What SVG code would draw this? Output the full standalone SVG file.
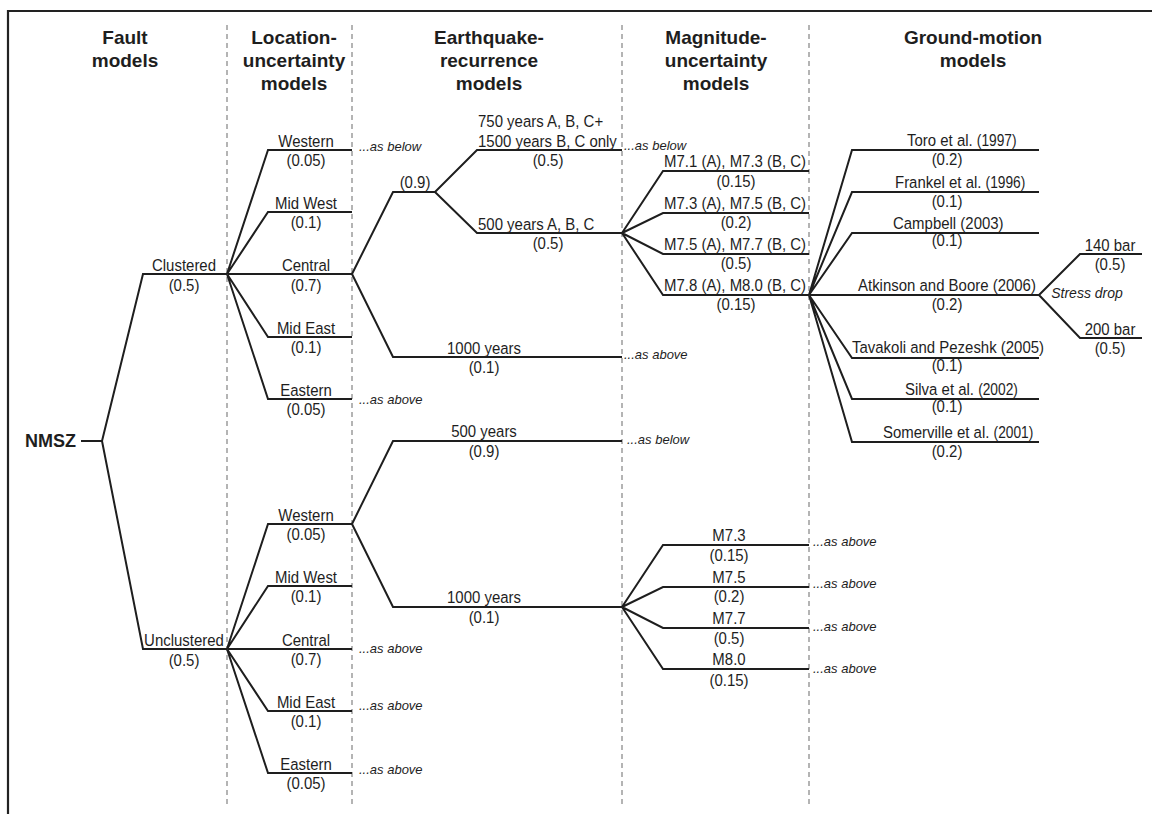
<svg xmlns="http://www.w3.org/2000/svg" width="1152" height="814" viewBox="0 0 1152 814">
<style>
.ln{fill:none;stroke:#1e1e1e;stroke-width:2;stroke-linejoin:miter}
.fr{fill:none;stroke:#222;stroke-width:2.2}
.dash{stroke:#b4b4b4;stroke-width:2;stroke-dasharray:5 4}
text{font-family:"Liberation Sans",Arial,sans-serif;fill:#1e1e1e}
.hd{font-size:19px;font-weight:bold;text-anchor:middle}
.t{font-size:17.4px}
.c{text-anchor:middle}
.it{font-size:13px;font-style:italic}
.yr{font-size:16px}
</style>
<rect width="1152" height="814" fill="#fff"/>
<path class="fr" d="M8,814 V11 H1152"/>
<g id="columns">
<line class="dash" x1="227" y1="25" x2="227" y2="808"/>
<line class="dash" x1="352" y1="25" x2="352" y2="808"/>
<line class="dash" x1="622" y1="25" x2="622" y2="808"/>
<line class="dash" x1="809" y1="25" x2="809" y2="808"/>
</g>
<g id="headers">
<text class="hd" x="125" y="44">Fault</text>
<text class="hd" x="125" y="67">models</text>
<text class="hd" x="294" y="44">Location-</text>
<text class="hd" x="294" y="67">uncertainty</text>
<text class="hd" x="294" y="90">models</text>
<text class="hd" x="489" y="44">Earthquake-</text>
<text class="hd" x="489" y="67">recurrence</text>
<text class="hd" x="489" y="90">models</text>
<text class="hd" x="716" y="44">Magnitude-</text>
<text class="hd" x="716" y="67">uncertainty</text>
<text class="hd" x="716" y="90">models</text>
<text class="hd" x="973" y="44">Ground-motion</text>
<text class="hd" x="973" y="67">models</text>
</g>
<g id="connectors">
<path class="ln" d="M81,441 H102"/>
<path class="ln" d="M227,274 H143 L102,441 L143,649 H227"/>
<path class="ln" d="M227,274 L268,150 H352 M227,274 L268,212 H352 M227,274 H352 M227,274 L268,337 H352 M227,274 L268,399 H352"/>
<path class="ln" d="M352,274 L393,192 H435 L477,150 H622 M435,192 L477,233 H622 M352,274 L393,357 H622"/>
<path class="ln" d="M622,233 L663,171 H809 M622,233 L663,213 H809 M622,233 L663,254 H809 M622,233 L663,295 H809"/>
<path class="ln" d="M809,295 L852,150 H1039 M809,295 L852,192 H1039 M809,295 L852,233 H1039 M809,295 H1039 M809,295 L852,358 H1039 M809,295 L852,399 H1039 M809,295 L852,442 H1039"/>
<path class="ln" d="M1039,295 L1080,254 H1142 M1039,295 L1080,338 H1142"/>
<path class="ln" d="M227,649 L268,524 H352 M227,649 L268,586 H352 M227,649 H352 M227,649 L268,711 H352 M227,649 L268,773 H352"/>
<path class="ln" d="M352,524 L393,441 H622 M352,524 L393,607 H622"/>
<path class="ln" d="M622,607 L663,545 H809 M622,607 L663,587 H809 M622,607 L663,628 H809 M622,607 L663,669 H809"/>
</g>
<g id="nmsz"><text x="25" y="447" style="font-size:18px;font-weight:bold">NMSZ</text></g>
<g id="clustered"><text class="t c" transform="matrix(.86 0 0 1 184 271)">Clustered</text><text class="t c" transform="matrix(.86 0 0 1 184 291)">(0.5)</text></g>
<g id="unclustered"><text class="t c" transform="matrix(.86 0 0 1 184 646)">Unclustered</text><text class="t c" transform="matrix(.86 0 0 1 184 666)">(0.5)</text></g>
<g id="c-western"><text class="t c" transform="matrix(.86 0 0 1 306 147)">Western</text><text class="t c" transform="matrix(.86 0 0 1 306 166)">(0.05)</text><text class="it" x="359" y="151">...as below</text></g>
<g id="c-midwest"><text class="t c" transform="matrix(.86 0 0 1 306 209)">Mid West</text><text class="t c" transform="matrix(.86 0 0 1 306 228)">(0.1)</text></g>
<g id="c-central"><text class="t c" transform="matrix(.86 0 0 1 306 271)">Central</text><text class="t c" transform="matrix(.86 0 0 1 306 291)">(0.7)</text></g>
<g id="c-mideast"><text class="t c" transform="matrix(.86 0 0 1 306 334)">Mid East</text><text class="t c" transform="matrix(.86 0 0 1 306 353)">(0.1)</text></g>
<g id="c-eastern"><text class="t c" transform="matrix(.86 0 0 1 306 396)">Eastern</text><text class="t c" transform="matrix(.86 0 0 1 306 415)">(0.05)</text><text class="it" x="359" y="404">...as above</text></g>
<g id="c-r09"><text class="t c" transform="matrix(.86 0 0 1 415 188)">(0.9)</text></g>
<g id="c-r750"><text class="t" transform="matrix(.86 0 0 1 478 127)">750 years A, B, C+</text><text class="t" transform="matrix(.86 0 0 1 478 147)">1500 years B, C only</text><text class="t c" transform="matrix(.86 0 0 1 548 166)">(0.5)</text><text class="it" x="624" y="150">...as below</text></g>
<g id="c-r500"><text class="t" transform="matrix(.86 0 0 1 478 230)">500 years A, B, C</text><text class="t c" transform="matrix(.86 0 0 1 548 249)">(0.5)</text></g>
<g id="c-r1000"><text class="t c" transform="matrix(.86 0 0 1 484 354)">1000 years</text><text class="t c" transform="matrix(.86 0 0 1 484 373)">(0.1)</text><text class="it" x="624" y="359">...as above</text></g>
<g id="c-m1"><text class="t" transform="matrix(.86 0 0 1 664 167)">M7.1 (A), M7.3 (B, C)</text><text class="t c" transform="matrix(.86 0 0 1 736 187)">(0.15)</text></g>
<g id="c-m2"><text class="t" transform="matrix(.86 0 0 1 664 209)">M7.3 (A), M7.5 (B, C)</text><text class="t c" transform="matrix(.86 0 0 1 736 228)">(0.2)</text></g>
<g id="c-m3"><text class="t" transform="matrix(.86 0 0 1 664 250)">M7.5 (A), M7.7 (B, C)</text><text class="t c" transform="matrix(.86 0 0 1 736 269)">(0.5)</text></g>
<g id="c-m4"><text class="t" transform="matrix(.86 0 0 1 664 291)">M7.8 (A), M8.0 (B, C)</text><text class="t c" transform="matrix(.86 0 0 1 736 310)">(0.15)</text></g>
<g id="g-toro"><text class="t" transform="matrix(.86 0 0 1 907 146)">Toro et al. <tspan class="yr">(1997)</tspan></text><text class="t c" transform="matrix(.86 0 0 1 947 165)">(0.2)</text></g>
<g id="g-frankel"><text class="t" transform="matrix(.86 0 0 1 895 188)">Frankel et al. <tspan class="yr">(1996)</tspan></text><text class="t c" transform="matrix(.86 0 0 1 947 207)">(0.1)</text></g>
<g id="g-campbell"><text class="t" transform="matrix(.86 0 0 1 893 229)">Campbell (2003)</text><text class="t c" transform="matrix(.86 0 0 1 947 246)">(0.1)</text></g>
<g id="g-atkinson"><text class="t" transform="matrix(.86 0 0 1 858 291)">Atkinson and Boore (2006)</text><text class="t c" transform="matrix(.86 0 0 1 947 310)">(0.2)</text></g>
<g id="g-tavakoli"><text class="t" transform="matrix(.86 0 0 1 852 353)">Tavakoli and Pezeshk (2005)</text><text class="t c" transform="matrix(.86 0 0 1 947 371)">(0.1)</text></g>
<g id="g-silva"><text class="t" transform="matrix(.86 0 0 1 905 395)">Silva et al. <tspan class="yr">(2002)</tspan></text><text class="t c" transform="matrix(.86 0 0 1 947 412)">(0.1)</text></g>
<g id="g-somerville"><text class="t" transform="matrix(.86 0 0 1 883 438)">Somerville et al. <tspan class="yr">(2001)</tspan></text><text class="t c" transform="matrix(.86 0 0 1 947 457)">(0.2)</text></g>
<g id="stress-drop"><text class="c" x="1087" y="298" style="font-size:14px;font-style:italic">Stress drop</text></g>
<g id="s-140"><text class="t c" transform="matrix(.86 0 0 1 1110 251)">140 bar</text><text class="t c" transform="matrix(.86 0 0 1 1110 270)">(0.5)</text></g>
<g id="s-200"><text class="t c" transform="matrix(.86 0 0 1 1110 335)">200 bar</text><text class="t c" transform="matrix(.86 0 0 1 1110 354)">(0.5)</text></g>
<g id="u-western"><text class="t c" transform="matrix(.86 0 0 1 306 521)">Western</text><text class="t c" transform="matrix(.86 0 0 1 306 540)">(0.05)</text></g>
<g id="u-midwest"><text class="t c" transform="matrix(.86 0 0 1 306 583)">Mid West</text><text class="t c" transform="matrix(.86 0 0 1 306 602)">(0.1)</text></g>
<g id="u-central"><text class="t c" transform="matrix(.86 0 0 1 306 646)">Central</text><text class="t c" transform="matrix(.86 0 0 1 306 665)">(0.7)</text><text class="it" x="359" y="653">...as above</text></g>
<g id="u-mideast"><text class="t c" transform="matrix(.86 0 0 1 306 708)">Mid East</text><text class="t c" transform="matrix(.86 0 0 1 306 727)">(0.1)</text><text class="it" x="359" y="710">...as above</text></g>
<g id="u-eastern"><text class="t c" transform="matrix(.86 0 0 1 306 770)">Eastern</text><text class="t c" transform="matrix(.86 0 0 1 306 789)">(0.05)</text><text class="it" x="359" y="774">...as above</text></g>
<g id="u-r500"><text class="t c" transform="matrix(.86 0 0 1 484 437)">500 years</text><text class="t c" transform="matrix(.86 0 0 1 484 457)">(0.9)</text><text class="it" x="627" y="444">...as below</text></g>
<g id="u-r1000"><text class="t c" transform="matrix(.86 0 0 1 484 603)">1000 years</text><text class="t c" transform="matrix(.86 0 0 1 484 623)">(0.1)</text></g>
<g id="u-m73"><text class="t c" transform="matrix(.86 0 0 1 729 541)">M7.3</text><text class="t c" transform="matrix(.86 0 0 1 729 561)">(0.15)</text><text class="it" x="813" y="546">...as above</text></g>
<g id="u-m75"><text class="t c" transform="matrix(.86 0 0 1 729 583)">M7.5</text><text class="t c" transform="matrix(.86 0 0 1 729 602)">(0.2)</text><text class="it" x="813" y="588">...as above</text></g>
<g id="u-m77"><text class="t c" transform="matrix(.86 0 0 1 729 624)">M7.7</text><text class="t c" transform="matrix(.86 0 0 1 729 644)">(0.5)</text><text class="it" x="813" y="631">...as above</text></g>
<g id="u-m80"><text class="t c" transform="matrix(.86 0 0 1 729 665)">M8.0</text><text class="t c" transform="matrix(.86 0 0 1 729 686)">(0.15)</text><text class="it" x="813" y="673">...as above</text></g>
</svg>
